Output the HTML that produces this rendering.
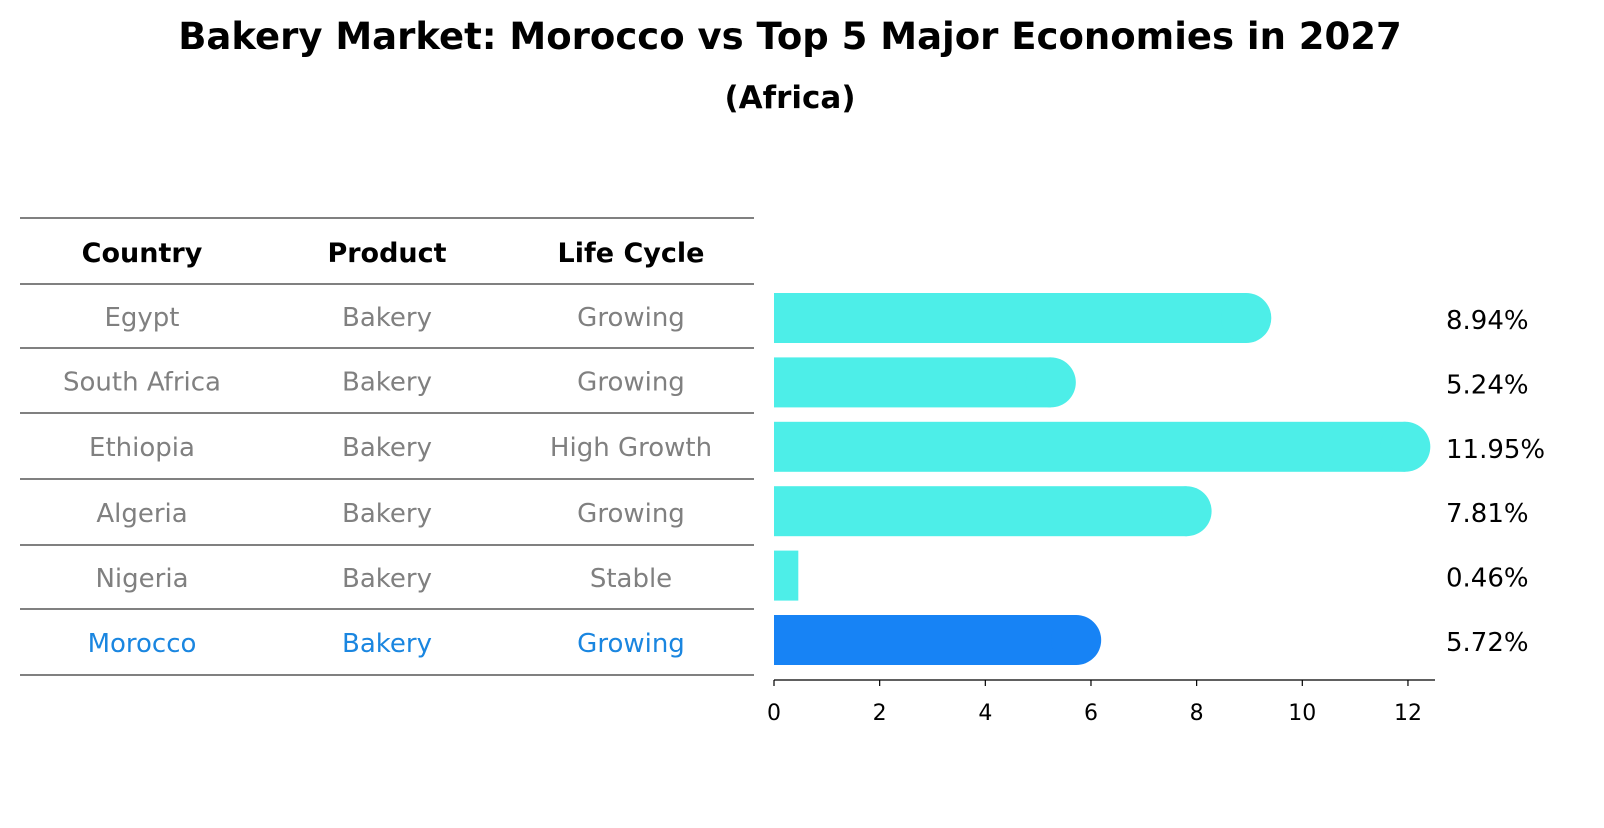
<!DOCTYPE html>
<html><head><meta charset="utf-8"><style>
body{margin:0;background:#fff;font-family:"Liberation Sans","DejaVu Sans",sans-serif;}
svg text{font-family:"DejaVu Sans","Liberation Sans",sans-serif;}
</style></head><body>
<svg id="chart" width="1604" height="823" viewBox="0 0 1604 823" xmlns="http://www.w3.org/2000/svg">
<text x="790" y="49" text-anchor="middle" font-size="37" font-weight="bold">Bakery Market: Morocco vs Top 5 Major Economies in 2027</text>
<text x="790" y="108" text-anchor="middle" font-size="31" font-weight="bold">(Africa)</text>
<g id="table"></g>
<g id="bars"></g>
<g id="axis"></g>
</svg>
<script>
const countries=["Egypt","South Africa","Ethiopia","Algeria","Nigeria","Morocco"];
const products=["Bakery","Bakery","Bakery","Bakery","Bakery","Bakery"];
const lifeCycles=["Growing","Growing","High Growth","Growing","Stable","Growing"];
const values=[8.94,5.24,11.95,7.81,0.46,5.72];
const xTicks=[0,2,4,6,8,10,12];
const NS="http://www.w3.org/2000/svg";
const x0=774,pxPer=52.83;
const xs=v=>x0+v*pxPer;
const rowY=i=>318+i*64.4;
function mk(tag,attrs,parent){const e=document.createElementNS(NS,tag);for(const k in attrs)e.setAttribute(k,attrs[k]);parent.appendChild(e);return e;}
const table=document.getElementById('table'),bars=document.getElementById('bars'),axis=document.getElementById('axis');
const lines=[218,284,348,413,479,545,609,675];
lines.forEach(y=>{const l=mk('line',{x1:20,x2:754,y1:y,y2:y,stroke:'#000','stroke-width':1},table);

});
const cx=[142,387,631];
["Country","Product","Life Cycle"].forEach((h,j)=>{const t=mk('text',{x:cx[j],y:262,'text-anchor':'middle','font-size':27,'font-weight':'bold'},table);t.textContent=h;

});
countries.forEach((c,i)=>{
 const y=(lines[i+1]+lines[i+2])/2+10;
 const col=c==="Morocco"?'#1a86e0':'#808080';
 [c,products[i],lifeCycles[i]].forEach((v,j)=>{const t=mk('text',{x:cx[j],y:y,'text-anchor':'middle','font-size':26,fill:col},table);t.textContent=v;
 
 });
 const cy=rowY(i),h=50,fill=c==="Morocco"?'#1783f5':'#4deee8';
 const r=mk('rect',{x:x0,y:cy-h/2,width:xs(values[i])-x0,height:h,fill:fill},bars);
 
 
 if(values[i]>1){const cap=mk('circle',{cx:xs(values[i]),cy:cy,r:h/2,fill:fill},bars);
 
 }
 const t=mk('text',{x:1446,y:cy+11,'font-size':26},bars);t.textContent=values[i].toFixed(2)+'%';
 
 
});
const al=mk('line',{x1:x0,x2:1435,y1:680,y2:680,stroke:'#000','stroke-width':1.2},axis);


xTicks.forEach(v=>{const tl=mk('line',{x1:xs(v),x2:xs(v),y1:680,y2:686,stroke:'#000','stroke-width':1.2},axis);


const t=mk('text',{x:xs(v),y:720,'text-anchor':'middle','font-size':22},axis);t.textContent=v;

});
</script>
</body></html>
